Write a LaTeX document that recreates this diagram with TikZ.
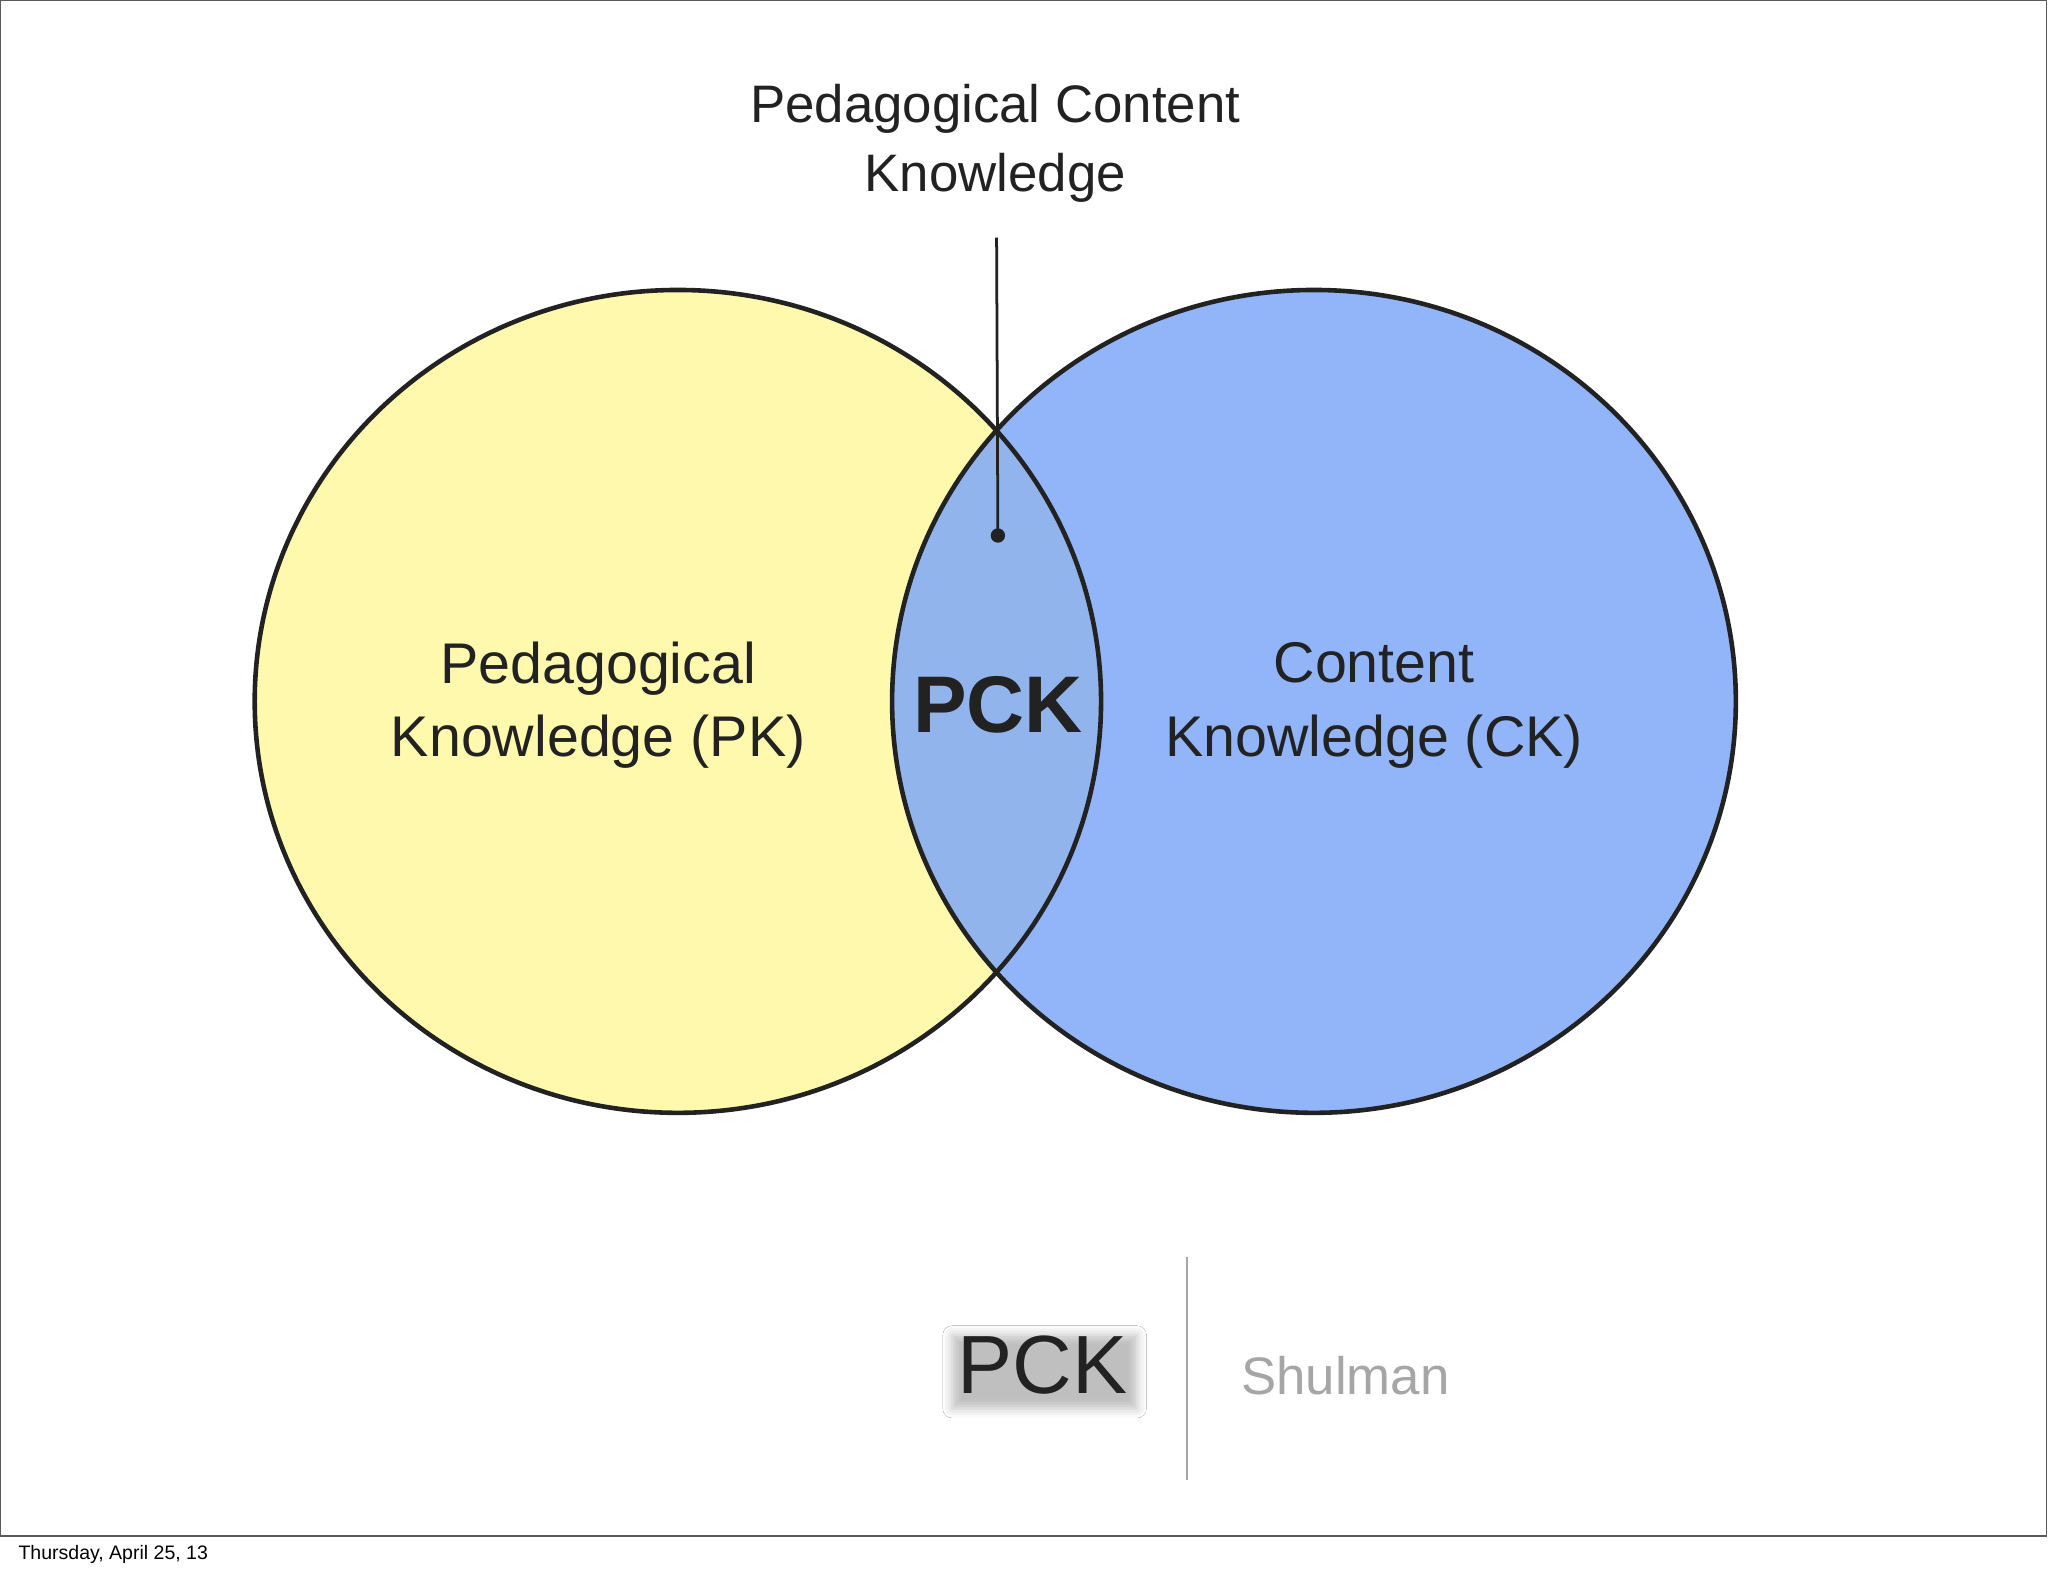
\documentclass[tikz,border=0pt]{standalone}
\usepackage{fontspec}
\setmainfont{Liberation Sans}
\usetikzlibrary{shadows.blur}
\definecolor{pkyellow}{HTML}{FFF9AE}
\definecolor{ckblue}{HTML}{7FA8F8}
\definecolor{ink}{HTML}{222222}
\begin{document}
\begin{tikzpicture}[x=0.02cm,y=-0.02cm,
  circ/.style={draw=ink,line width=2pt},
  lbl/.style={align=center,text=ink,font=\fontsize{25}{32}\selectfont}]
\useasboundingbox (0,0) rectangle (1568,1207);
\fill[white] (0,0) rectangle (1568,1207);
\draw[line width=0.5pt,gray!70!black] (0,0) rectangle (1567,1176);
\node[anchor=west,font=\fontsize{8.5}{10}\selectfont] (foot) at (8,1190) {Thursday, April 25, 13};
\fill[pkyellow] (519,537) ellipse [x radius=324,y radius=315];
\fill[ckblue,fill opacity=0.85] (1006,537) ellipse [x radius=323,y radius=315];
\draw[circ] (519,537) ellipse [x radius=324,y radius=315];
\draw[circ] (1006,537) ellipse [x radius=323,y radius=315];
\node[lbl] (pk) at (458,540) {Pedagogical\\Knowledge (PK)};
\node[lbl] (ck) at (1052,540) {Content\\Knowledge (CK)};
\node[text=ink,font=\fontsize{35}{40}\selectfont\bfseries] (pck) at (764,540) {PCK};
\node[lbl,font=\fontsize{23}{30}\selectfont] (top) at (762,110) {Pedagogical Content\\Knowledge};
\coordinate (topend) at (763,182);
\coordinate (dot) at (764,410);
\draw[ink,line width=1.2pt] (topend) -- (dot);
\fill[ink] (dot) circle (5.5);
\node[text=ink,font=\fontsize{36}{40}\selectfont,blur shadow={shadow xshift=1pt,shadow yshift=-3pt,shadow blur radius=4pt,shadow opacity=25}] (bp) at (798,1045) {PCK};
\coordinate (va) at (909,962); \coordinate (vb) at (909,1133);
\draw[gray!70,line width=0.8pt] (va) -- (vb);
\node[text=gray!70,font=\fontsize{23}{28}\selectfont] (sh) at (1030,1053) {Shulman};
\end{tikzpicture}
\end{document}
